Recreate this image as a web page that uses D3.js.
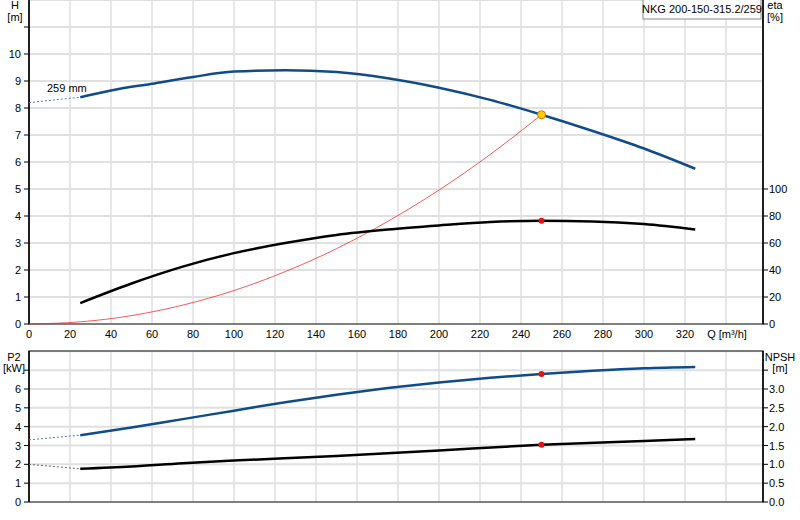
<!DOCTYPE html>
<html><head><meta charset="utf-8">
<script src="https://cdn.jsdelivr.net/npm/d3@7"></script>
<style>body{margin:0;background:#fff}text{font-family:"Liberation Sans",Arial,sans-serif;font-size:11px;fill:#000}</style>
</head><body><svg id="c" width="800" height="520"></svg>
<script>
// data
var qH = [25, 40, 60, 80, 100, 125, 150, 175, 200, 225, 250, 275, 300, 325];
var headH = [8.4, 8.65, 8.9, 9.15, 9.35, 9.4, 9.33, 9.1, 8.75, 8.3, 7.75, 7.15, 6.5, 5.75];
var headExt = [[0, 8.2], [25, 8.4]];
var qEta = [25, 50, 75, 100, 125, 150, 175, 200, 225, 250, 275, 300, 325];
var eta = [15.5, 30, 42.5, 52.5, 60, 66, 70, 73, 75.5, 76.5, 76, 74, 70];
var qSys = [0, 25, 50, 75, 100, 125, 150, 175, 200, 225, 250];
var hSys = [0, 0.08, 0.31, 0.7, 1.24, 1.94, 2.79, 3.8, 4.96, 6.28, 7.75];
var qP = [25, 50, 75, 100, 125, 150, 175, 200, 225, 250, 275, 300, 325];
var p2 = [3.55, 3.95, 4.4, 4.85, 5.3, 5.7, 6.05, 6.35, 6.6, 6.8, 6.97, 7.1, 7.17];
var p2Ext = [[0, 3.3], [25, 3.55]];
var qN = [25, 50, 75, 100, 150, 200, 250, 300, 325];
var npsh = [0.88, 0.94, 1.03, 1.1, 1.22, 1.37, 1.52, 1.62, 1.67];
var npshExt = [[0, 1.0], [25, 0.88]];
var duty = {q: 250, h: 7.75, eta: 76.5, p2: 6.8, npsh: 1.52};
var qTicks = [0, 20, 40, 60, 80, 100, 120, 140, 160, 180, 200, 220, 240, 260, 280, 300, 320];

var svg = d3.select("#c");
var x = d3.scaleLinear().domain([0, 20]).range([29, 70]);
var xR = 763;
var yH = d3.scaleLinear().domain([0, 10]).range([324, 54]);
var yE = d3.scaleLinear().domain([0, 100]).range([324, 189]);
var yP = d3.scaleLinear().domain([0, 6]).range([502, 389]);
var yN = d3.scaleLinear().domain([0, 3]).range([502, 389]);

function grid(y0, y1, yTicks, ys) {
    // vertical lines
    d3.range(20, 360, 20).forEach(function(q) {
        svg.append("line").attr("x1", x(q)).attr("x2", x(q)).attr("y1", y0).attr("y2", y1)
            .attr("stroke", "#cfcfcf");
    });
    yTicks.forEach(function(v) {
        svg.append("line").attr("x1", x(0)).attr("x2", xR).attr("y1", ys(v)).attr("y2", ys(v))
            .attr("stroke", "#e0e0e0").attr("stroke-width", 2);
    });
}
grid(0, 324, d3.range(1, 13), yH);
grid(351, 502, d3.range(1, 9), yP);

// frames
svg.append("path").attr("d", "M29,0V324H" + xR + "V0").attr("fill", "none").attr("stroke", "#555").attr("stroke-width", 1.5);
svg.append("path").attr("d", "M29,502V351H" + xR + "V502H29").attr("fill", "none").attr("stroke", "#555").attr("stroke-width", 1.5);
svg.append("line").attr("x1", xR).attr("x2", xR).attr("y1", 0).attr("y2", 324).attr("stroke", "#000").attr("stroke-width", 1.5);
svg.append("line").attr("x1", xR).attr("x2", xR).attr("y1", 351).attr("y2", 502).attr("stroke", "#000").attr("stroke-width", 1.5);
svg.append("line").attr("x1", 29).attr("x2", 29).attr("y1", 0).attr("y2", 324).attr("stroke", "#000").attr("stroke-width", 1.5);
svg.append("line").attr("x1", 29).attr("x2", 29).attr("y1", 351).attr("y2", 502).attr("stroke", "#000").attr("stroke-width", 1.5);

// axes
function leftAxis(s, vals, fmt, extra) {
    vals.concat(extra).forEach(function(v) {
        svg.append("line").attr("x1", 24).attr("x2", 29).attr("y1", s(v)).attr("y2", s(v)).attr("stroke", "#000");
    });
    vals.forEach(function(v) {
        svg.append("text").attr("x", 21).attr("y", s(v) + 4).attr("text-anchor", "end").text(fmt(v));
    });
}
function rightAxis(s, vals, fmt, extra) {
    vals.concat(extra).forEach(function(v) {
        svg.append("line").attr("x1", xR).attr("x2", xR + 5).attr("y1", s(v)).attr("y2", s(v)).attr("stroke", "#000");
    });
    vals.forEach(function(v) {
        svg.append("text").attr("x", xR + 6).attr("y", s(v) + 4).text(fmt(v));
    });
}
leftAxis(yH, d3.range(0, 11), d3.format("d"), [11]);
rightAxis(yE, d3.range(0, 101, 20), d3.format("d"), []);
leftAxis(yP, d3.range(0, 7), d3.format("d"), [7]);
rightAxis(yN, d3.range(0, 3.01, 0.5), d3.format(".1f"), [3.5]);

qTicks.forEach(function(q) {
    svg.append("text").attr("x", x(q)).attr("y", 338).attr("text-anchor", "middle").text(q);
});
svg.append("text").attr("x", x(340) + 1).attr("y", 338).attr("text-anchor", "middle").text("Q [m³/h]");

svg.append("text").attr("x", 15).attr("y", 9).attr("text-anchor", "middle").text("H");
svg.append("text").attr("x", 15).attr("y", 21).attr("text-anchor", "middle").text("[m]");
svg.append("text").attr("x", 775).attr("y", 9).attr("text-anchor", "middle").text("eta");
svg.append("text").attr("x", 775).attr("y", 21).attr("text-anchor", "middle").text("[%]");
svg.append("text").attr("x", 14).attr("y", 361).attr("text-anchor", "middle").text("P2");
svg.append("text").attr("x", 14).attr("y", 372).attr("text-anchor", "middle").text("[kW]");
svg.append("text").attr("x", 780).attr("y", 361).attr("text-anchor", "middle").text("NPSH");
svg.append("text").attr("x", 780).attr("y", 372).attr("text-anchor", "middle").text("[m]");

// legend box
svg.append("rect").attr("x", 643).attr("y", -1).attr("width", 118).attr("height", 20)
    .attr("fill", "#fff").attr("stroke", "#888");
svg.append("text").attr("x", 702).attr("y", 13).attr("text-anchor", "middle").text("NKG 200-150-315.2/259");
svg.append("text").attr("x", 47).attr("y", 92).text("259 mm");

// curves
function draw(qs, vs, ys, color, w) {
    var pts = qs.map(function(q, i) { return [q, vs[i]]; });
    svg.append("path").datum(pts)
        .attr("d", d3.line().x(function(d) { return x(d[0]); }).y(function(d) { return ys(d[1]); }).curve(d3.curveMonotoneX))
        .attr("fill", "none").attr("stroke", color).attr("stroke-width", w);
}
function dashed(pts, ys, color) {
    svg.append("path").datum(pts)
        .attr("d", d3.line().x(function(d) { return x(d[0]); }).y(function(d) { return ys(d[1]); }))
        .attr("fill", "none").attr("stroke", color).attr("stroke-width", 1).attr("stroke-dasharray", "2,2");
}
dashed(headExt, yH, "#5b7aa6");
dashed(p2Ext, yP, "#5b7aa6");
dashed(npshExt, yN, "#666");
draw(qSys, hSys, yH, "#f03030", 0.8);
draw(qH, headH, yH, "#0f4c88", 2.5);
draw(qEta, eta, yE, "#000", 2.5);
draw(qP, p2, yP, "#0f4c88", 2.5);
draw(qN, npsh, yN, "#000", 2.5);

// duty point markers
svg.append("circle").attr("cx", x(duty.q)).attr("cy", yH(duty.h)).attr("r", 4).attr("fill", "#ffcc00").attr("stroke", "#e07000");
[[yE, duty.eta], [yP, duty.p2], [yN, duty.npsh]].forEach(function(d) {
    svg.append("circle").attr("cx", x(duty.q)).attr("cy", d[0](d[1])).attr("r", 3).attr("fill", "#e81010");
});
</script></body></html>
